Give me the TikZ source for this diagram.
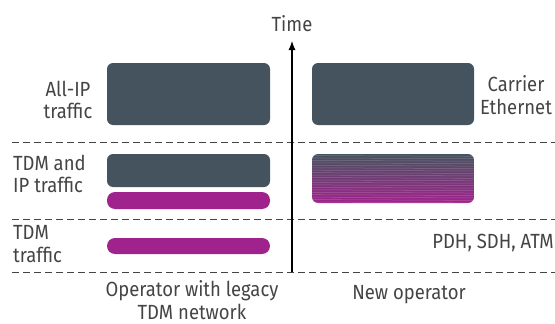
\documentclass[tikz,border=0pt]{standalone}
\usepackage{fontspec}
\setmainfont{Fira Sans}[FakeStretch=0.9]
\usetikzlibrary{arrows.meta}
\definecolor{slate}{HTML}{45535E}
\definecolor{magen}{HTML}{A0228C}
\definecolor{txt}{HTML}{444444}
\tikzset{
  lbl/.style={text=txt, font=\fontsize{20.5}{22.5}\selectfont, inner sep=0pt},
  bigbox/.style={fill=slate, draw=none, rounded corners=6pt},
  tdmbar/.style={fill=magen, draw=none, rounded corners=8pt},
  sep/.style={draw=txt, line width=0.9pt, dash pattern=on 7pt off 4pt},
}
\begin{document}
\begin{tikzpicture}[x=1pt,y=-1pt]
\useasboundingbox (0,0) rectangle (555,324);
% separators
\coordinate (s1l) at (12,142); \coordinate (s1r) at (555,142);
\coordinate (s2l) at (12,219); \coordinate (s2r) at (555,219);
\coordinate (s3l) at (12,272); \coordinate (s3r) at (555,272);
\draw[sep] (s1l) -- (s1r);
\draw[sep] (s2l) -- (s2r);
\draw[sep] (s3l) -- (s3r);
% boxes
\path[bigbox] (107,63) rectangle (270,125);
\path[bigbox] (312,63) rectangle (474,125);
\path[bigbox] (107,154) rectangle (270,187);
\path[tdmbar] (107,192) rectangle (270,209);
\path[tdmbar] (107,238) rectangle (270,254);
% gradient box
\begin{scope}
\clip[rounded corners=6pt] (312,154) rectangle (474,203);
\shade[top color=slate, bottom color=magen] (312,154) rectangle (474,203);
\foreach \i in {0,...,19} {
  \draw[white, opacity=0.22, line width=0.5pt] (312,{155.5+\i*2.45}) -- (474,{155.5+\i*2.45+0.8});
}
\end{scope}
% axis
\coordinate (ax0) at (292,272);
\coordinate (ax1) at (292,41);
\draw[line width=1.1pt, draw=black, -{Latex[length=9pt,width=7pt]}] (ax0) -- (ax1);
% labels
\node[lbl] (time) at (292,24) {Time};
\node[lbl, align=center] (allip) at (68,100) {All-IP\\traffic};
\node[lbl, align=center] (ce) at (516,95) {Carrier\\Ethernet};
\node[lbl, align=left, anchor=west] (tdmip) at (13,174) {TDM and\\IP traffic};
\node[lbl, align=left, anchor=west] (tdm) at (13,244) {TDM\\traffic};
\node[lbl, anchor=east] (pdh) at (554,243) {PDH, SDH, ATM};
\node[lbl, align=center] (op) at (192,300) {Operator with legacy\\TDM network};
\node[lbl] (newop) at (409,295) {New operator};
\end{tikzpicture}
\end{document}
